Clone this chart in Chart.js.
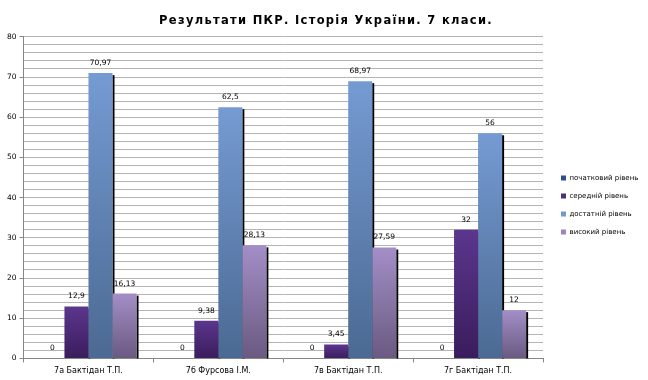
<!DOCTYPE html>
<html>
<head>
<meta charset="utf-8">
<script src="https://cdn.jsdelivr.net/npm/chart.js@4/dist/chart.umd.min.js"></script>
<style>
  html, body { margin: 0; padding: 0; background: #fff; }
  #wrap { width: 648px; height: 380px; position: relative; }
</style>
</head>
<body>
<div id="wrap"><canvas id="c" width="648" height="380"></canvas></div>
<script>
// ---- data ----
const titleText = 'Результати ПКР. Історія України. 7 класи.';
const categories = ['7а Бактідан Т.П.', '7б Фурсова І.М.', '7в Бактідан Т.П.', '7г Бактідан Т.П.'];
const seriesNames = ['початковий рівень', 'середній рівень', 'достатній рівень', 'високий рівень'];
const initialLevel = [0, 0, 0, 0];
const mediumLevel = [12.9, 9.38, 3.45, 32];
const sufficientLevel = [70.97, 62.5, 68.97, 56];
const highLevel = [16.13, 28.13, 27.59, 12];
const yTicks = [0, 10, 20, 30, 40, 50, 60, 70, 80];

// ---- styles ----
const legendColors = ['#2c4f8f', '#4f2d7f', '#7597cf', '#9a86bf'];
const gradTop = ['#3d64a8', '#5b368d', '#759bd3', '#a38fc7'];
const gradBottom = ['#2a467a', '#3a1d5d', '#4b6992', '#6a5981'];

function gradFor(i) {
  return (ctx) => {
    if (ctx.type !== 'data') return legendColors[i];
    const chart = ctx.chart;
    const ys = chart.scales.y;
    if (!ys || !ctx.parsed) return legendColors[i];
    const top = ys.getPixelForValue(ctx.parsed.y);
    const base = ys.getPixelForValue(0);
    if (!isFinite(top) || !isFinite(base) || Math.abs(base - top) < 1) return gradBottom[i];
    const g = chart.ctx.createLinearGradient(0, top, 0, base);
    g.addColorStop(0, gradTop[i]);
    g.addColorStop(1, gradBottom[i]);
    return g;
  };
}

const allSeries = [initialLevel, mediumLevel, sufficientLevel, highLevel];

const shadowPlugin = {
  id: 'barShadow',
  beforeDatasetsDraw(chart) {
    const ctx = chart.ctx;
    const base = chart.scales.y.getPixelForValue(0);
    ctx.save();
    ctx.fillStyle = '#000';
    chart.data.datasets.forEach((ds, di) => {
      const meta = chart.getDatasetMeta(di);
      meta.data.forEach((el, i) => {
        const v = ds.data[i];
        if (!v) return;
        const right = el.x + el.width / 2;
        ctx.fillRect(right, el.y + 2, 2, base - el.y - 2);
      });
    });
    ctx.restore();
  }
};

const labelPlugin = {
  id: 'valueLabels',
  afterDatasetsDraw(chart) {
    const ctx = chart.ctx;
    ctx.save();
    ctx.font = '7.5px "DejaVu Sans"';
    ctx.fillStyle = '#000';
    ctx.textAlign = 'center';
    ctx.textBaseline = 'middle';
    chart.data.datasets.forEach((ds, di) => {
      const meta = chart.getDatasetMeta(di);
      meta.data.forEach((el, i) => {
        const v = ds.data[i];
        ctx.fillText(String(v).replace('.', ','), el.x, el.y - 10);
      });
    });
    ctx.restore();
  }
};

const layoutPlugin = {
  id: 'layoutTweaks',
  beforeLayout(chart) {
    const lg = chart.legend;
    if (lg && !lg._fitWrapped) {
      const orig = lg.fit;
      lg.fit = function () { orig.call(this); this.width = 105; };
      lg._fitWrapped = true;
    }
    const tb = chart.titleBlock;
    if (tb && !tb._drawWrapped) {
      const od = tb.draw;
      tb.draw = function (...args) {
        const c = this.ctx;
        c.save();
        c.letterSpacing = '1.3px';
        od.apply(this, args);
        c.restore();
      };
      tb._drawWrapped = true;
    }
  },
  afterLayout(chart) {
    const lg = chart.legend;
    if (lg) { lg.left += 7; lg.right += 7; lg.top += 15; lg.bottom += 15; }
  }
};

new Chart(document.getElementById('c'), {
  type: 'bar',
  data: {
    labels: categories,
    datasets: seriesNames.map((name, i) => ({
      label: name,
      data: allSeries[i],
      backgroundColor: gradFor(i),
      borderWidth: 0,
      categoryPercentage: 0.74,
      barPercentage: 1.0
    }))
  },
  options: {
    responsive: false,
    animation: false,
    devicePixelRatio: 1,
    layout: { padding: { left: 4, right: 0, top: 0, bottom: 0 } },
    plugins: {
      title: {
        display: true,
        text: titleText,
        color: '#000',
        font: { family: 'DejaVu Sans', size: 11.5, weight: 'bold' },
        padding: { top: 14, bottom: 9 }
      },
      legend: {
        position: 'right',
        align: 'center',
        labels: {
          boxWidth: 5,
          boxHeight: 5,
          padding: 11,
          color: '#000',
          font: { family: 'DejaVu Sans', size: 7 },
          generateLabels(chart) {
            return chart.data.datasets.map((ds, i) => ({
              text: ds.label,
              fillStyle: legendColors[i],
              strokeStyle: legendColors[i],
              lineWidth: 0,
              hidden: !chart.isDatasetVisible(i),
              datasetIndex: i,
              fontColor: '#000'
            }));
          }
        }
      },
      tooltip: { enabled: false }
    },
    scales: {
      x: {
        grid: { display: true, offset: true, drawOnChartArea: false, tickLength: 4, color: '#868686' },
        border: { color: '#868686' },
        ticks: { color: '#000', font: { family: 'DejaVu Sans', size: 8 }, padding: 4, maxRotation: 0 }
      },
      y: {
        min: 0,
        max: 80,
        afterBuildTicks(scale) {
          const t = [];
          for (let v = 0; v <= 80; v += 2) t.push({ value: v });
          scale.ticks = t;
        },
        grid: {
          color: '#b4b4b4',
          tickLength: 4,
          tickColor: (c) => (c.tick && yTicks.includes(c.tick.value)) ? '#868686' : 'rgba(0,0,0,0)'
        },
        border: { color: '#868686' },
        ticks: {
          color: '#000',
          font: { family: 'DejaVu Sans', size: 7.5 },
          padding: 3,
          autoSkip: false,
          callback: (v) => yTicks.includes(v) ? String(v) : ''
        }
      }
    }
  },
  plugins: [shadowPlugin, labelPlugin, layoutPlugin]
});
</script>
</body>
</html>
